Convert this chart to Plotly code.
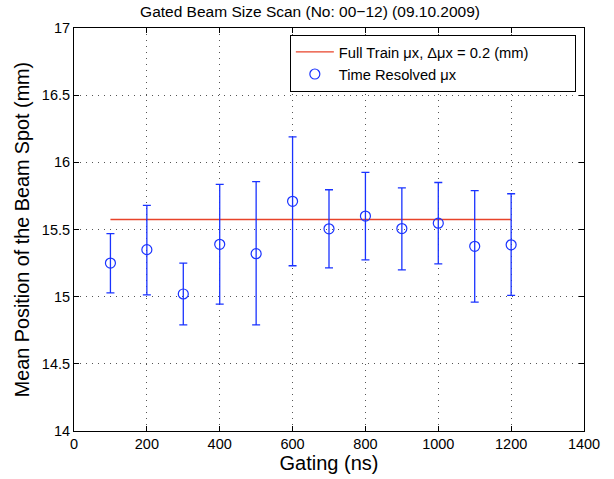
import plotly.graph_objects as go

gating = [100, 200, 300, 400, 500, 600, 700, 800, 900, 1000, 1100, 1200]
mean_pos = [15.25, 15.35, 15.02, 15.39, 15.32, 15.71, 15.505, 15.60, 15.507, 15.547, 15.375, 15.386]
upper = [15.47, 15.68, 15.25, 15.836, 15.856, 16.19, 15.796, 15.925, 15.81, 15.85, 15.79, 15.766]
lower = [15.028, 15.013, 14.79, 14.945, 14.79, 15.23, 15.214, 15.274, 15.20, 15.244, 14.96, 15.01]
full_train_x = [100, 1200]
full_train_y = [15.575, 15.575]

err_plus = [u - m for u, m in zip(upper, mean_pos)]
err_minus = [m - l for m, l in zip(mean_pos, lower)]

blue = "#1a33ff"
red = "#e8432a"
pad = "\u00a0" * 10

fig = go.Figure()
fig.add_trace(go.Scatter(
    x=full_train_x, y=full_train_y, mode="lines",
    line=dict(color=red, width=1.4),
    name="Full Train \u03bcx, \u0394\u03bcx = 0.2 (mm)" + pad))
fig.add_trace(go.Scatter(
    x=gating, y=mean_pos, mode="markers",
    marker=dict(symbol="circle-open", size=10, color=blue, line=dict(width=1.2, color=blue)),
    error_y=dict(type="data", symmetric=False, array=err_plus, arrayminus=err_minus,
                 color=blue, thickness=1.3, width=4),
    name="Time Resolved \u03bcx"))

axis_common = dict(
    showline=True, linecolor="black", linewidth=1, mirror="ticks",
    ticks="inside", ticklen=5, tickcolor="black",
    showgrid=True, gridcolor="#555555", griddash="1px,5px", gridwidth=1,
    zeroline=False, tickfont=dict(size=14.5, color="black"),
)

fig.update_layout(
    width=614, height=479,
    margin=dict(l=74, r=30, t=28, b=48),
    paper_bgcolor="white", plot_bgcolor="white",
    font=dict(family="Liberation Sans, Arial, sans-serif", color="black"),
    title=dict(text="Gated Beam Size Scan (No: 00\u221212) (09.10.2009)",
               x=0.505, xanchor="center", y=0.975, yanchor="middle",
               font=dict(size=15.5, color="black")),
    xaxis=dict(range=[0, 1400], dtick=200,
               title=dict(text="Gating (ns)", font=dict(size=20), standoff=0),
               **axis_common),
    yaxis=dict(range=[14, 17], dtick=0.5,
               title=dict(text="Mean Position of the Beam Spot (mm)", font=dict(size=19.8), standoff=6),
               **axis_common),
    legend=dict(x=0.984, y=0.983, xanchor="right", yanchor="top",
                bordercolor="black", borderwidth=1, bgcolor="white",
                font=dict(size=14.7), tracegroupgap=0, itemwidth=38),
    showlegend=True,
)

fig.write_html("out.html")
